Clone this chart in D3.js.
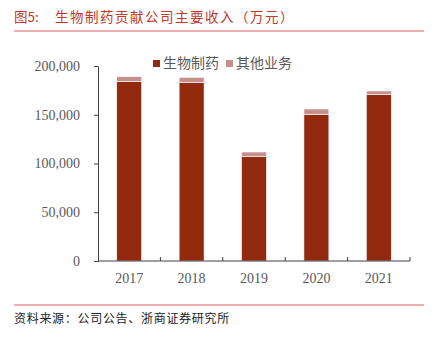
<!DOCTYPE html>
<html><head><meta charset="utf-8">
<script src="https://cdn.jsdelivr.net/npm/d3@7/dist/d3.min.js"></script>
<style>body{margin:0;background:#fff}</style>
</head><body>
<script>
const categories = ["2017","2018","2019","2020","2021"];
const seriesNames = ["生物制药","其他业务"];
const bioPharma = [184300, 182900, 107000, 150500, 170600];
const otherBiz = [4700, 5500, 4800, 5400, 3800];
const yTicks = [0, 50000, 100000, 150000, 200000];
const colors = ["#922A10", "#C4908B"];

const W = 438, H = 337;
const svg = d3.select("body").append("svg").attr("width", W).attr("height", H);

// title
svg.append("text").attr("x", 14).attr("y", 22)
  .attr("font-family", "'Noto Sans CJK SC', sans-serif").attr("font-size", 13.5)
  .attr("fill", "#C0392B").text("图5:");
svg.append("text").attr("x", 55).attr("y", 22)
  .attr("font-family", "'Noto Sans CJK SC', sans-serif").attr("font-size", 13.5)
  .attr("letter-spacing", 1.5)
  .attr("fill", "#C0392B").text("生物制药贡献公司主要收入（万元）");
svg.append("line").attr("x1", 14).attr("x2", 424).attr("y1", 31).attr("y2", 31)
  .attr("stroke", "#E06060").attr("stroke-width", 1);

const x = d3.scaleBand().domain(categories).range([98, 410]).paddingInner(0.6).paddingOuter(0.3);
const y = d3.scaleLinear().domain([0, 200000]).range([261, 66]);

const data = categories.map((c, i) => ({cat: c, a: bioPharma[i], b: otherBiz[i]}));
const stack = d3.stack().keys(["a","b"])(data);

svg.append("g").selectAll("g").data(stack).join("g")
  .attr("fill", (d, i) => colors[i])
  .selectAll("rect").data(d => d).join("rect")
  .attr("x", d => x(d.data.cat))
  .attr("width", x.bandwidth())
  .attr("y", d => y(d[1]))
  .attr("height", d => y(d[0]) - y(d[1]))
  .attr("stroke", "#fff").attr("stroke-width", 0.6);

// y axis
const yAxis = d3.axisLeft(y).tickValues(yTicks).tickSize(4).tickSizeOuter(0)
  .tickFormat(d3.format(",")).tickPadding(14);
const gy = svg.append("g").attr("transform", "translate(98,0)").call(yAxis);
gy.selectAll("text").attr("font-family", "'Liberation Serif', serif").attr("font-size", 14).attr("fill", "#595959");
gy.selectAll("line, path").attr("stroke", "#404040");

// x axis
const xAxis = d3.axisBottom(x).tickSize(0).tickPadding(12);
const gx = svg.append("g").attr("transform", "translate(0,261)").call(xAxis);
gx.select("path").attr("d", "M98,0H410").attr("stroke", "#404040");
gx.selectAll("text").attr("font-family", "'Liberation Serif', serif").attr("font-size", 14).attr("fill", "#595959");
// band boundary ticks
const bounds = categories.map(c => x(c) - x.step() * x.paddingInner() / 2).slice(1);
bounds.push(410);
gx.selectAll(".bt").data(bounds).join("line").attr("class","bt")
  .attr("x1", d => d).attr("x2", d => d).attr("y1", 0).attr("y2", -4).attr("stroke", "#404040");

// legend
const legX = [153, 226];
const lg = svg.append("g");
seriesNames.forEach((n, i) => {
  lg.append("rect").attr("x", legX[i]).attr("y", 60).attr("width", 7).attr("height", 7).attr("fill", colors[i]);
  lg.append("text").attr("x", legX[i] + 10).attr("y", 68)
    .attr("font-family", "'Noto Sans CJK SC', sans-serif").attr("font-size", 14).attr("fill", "#595959").text(n);
});

// source
svg.append("line").attr("x1", 14).attr("x2", 424).attr("y1", 305).attr("y2", 305)
  .attr("stroke", "#E06060").attr("stroke-width", 1);
svg.append("text").attr("x", 14).attr("y", 323)
  .attr("font-family", "'Noto Sans CJK SC', sans-serif").attr("font-size", 12)
  .attr("letter-spacing", 0.7)
  .attr("fill", "#222").text("资料来源：公司公告、浙商证券研究所");
</script>
</body></html>
